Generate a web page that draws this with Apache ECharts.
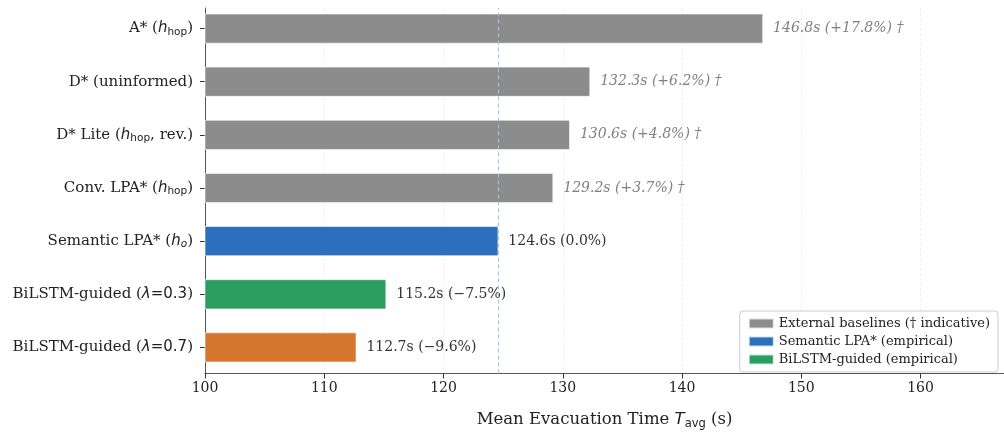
<!DOCTYPE html>
<html>
<head>
<meta charset="utf-8">
<script src="https://cdn.jsdelivr.net/npm/echarts@6/dist/echarts.min.js"></script>
<style>
  html, body { margin: 0; padding: 0; background: #fff; }
  #chart { width: 1004px; height: 435px; }
</style>
</head>
<body>
<div id="chart"></div>
<script>
// Planner names (rich-text markup for the math parts), top to bottom
const categories = [
  '{t|A* (}{m|h}{s|hop}{t|)}',
  '{t|D* (uninformed)}',
  '{t|D* Lite (}{m|h}{s|hop}{t|, rev.)}',
  '{t|Conv. LPA* (}{m|h}{s|hop}{t|)}',
  '{t|Semantic LPA* (}{m|h}{si|o}{t|)}',
  '{t|BiLSTM-guided (}{m|λ}{u|=0.3}{t|)}',
  '{t|BiLSTM-guided (}{m|λ}{u|=0.7}{t|)}'
];
// Mean evacuation time in seconds
const meanTimes = [146.8, 132.3, 130.6, 129.2, 124.6, 115.2, 112.7];
// Which legend group each planner belongs to
const groups = ['base', 'base', 'base', 'base', 'sem', 'bil', 'bil'];
const baselineIndex = 4; // Semantic LPA* is the reference for the % change
const xTicks = [100, 110, 120, 130, 140, 150, 160];

const groupInfo = {
  base: { name: 'External baselines († indicative)', color: '#8c8c8c' },
  sem:  { name: 'Semantic LPA* (empirical)',          color: '#2c6fbd' },
  bil:  { name: 'BiLSTM-guided (empirical)',          color: '#2a9d5f' }
};
const itemColors = { 6: '#d5762e' };

const SERIF = 'DejaVu Serif';
const SANS = 'DejaVu Sans';
const ref = meanTimes[baselineIndex];

function labelText(v) {
  const pct = (v - ref) / ref * 100;
  let p;
  if (Math.abs(pct) < 0.05) p = '0.0';
  else if (pct > 0) p = '+' + pct.toFixed(1);
  else p = '\u2212' + Math.abs(pct).toFixed(1);
  return v.toFixed(1) + 's (' + p + '%)';
}

function makeSeries(key) {
  const info = groupInfo[key];
  const isBase = key === 'base';
  return {
    name: info.name,
    type: 'bar',
    xAxisIndex: 0,
    yAxisIndex: 0,
    barWidth: 30,
    barGap: '-100%',
    itemStyle: { color: info.color, borderColor: 'rgba(255,255,255,0.75)', borderWidth: 0.8 },
    data: meanTimes.map((v, i) => {
      if (groups[i] !== key) return null;
      const d = { value: v };
      if (itemColors[i]) d.itemStyle = { color: itemColors[i] };
      return d;
    }),
    label: {
      show: true,
      position: 'right',
      distance: 10,
      fontFamily: SERIF,
      fontSize: 14,
      fontStyle: isBase ? 'italic' : 'normal',
      color: isBase ? '#808080' : '#333333',
      formatter: p => labelText(p.value) + (isBase ? ' \u2020' : '')
    },
    emphasis: { disabled: true },
    silent: true
  };
}

const chart = echarts.init(document.getElementById('chart'), null, { renderer: 'canvas' });
chart.setOption({
  animation: false,
  backgroundColor: '#ffffff',
  grid: [
    { left: 205, right: 0, top: 2, height: 372 },
    { left: 205, right: 0, top: 8, height: 372 }
  ],
  xAxis: [
    { gridIndex: 0, type: 'value', min: xTicks[0], max: 167, interval: 10, show: false },
    {
      gridIndex: 1, type: 'value', min: xTicks[0], max: 167, interval: 10,
      axisLine: { show: true, lineStyle: { color: '#555', width: 1 } },
      axisTick: { show: true, length: 5, customValues: xTicks, lineStyle: { color: '#333' } },
      axisLabel: {
        fontFamily: SERIF, fontSize: 14, color: '#222', margin: 8,
        customValues: xTicks,
        formatter: v => String(v)
      },
      splitLine: { show: true, lineStyle: { color: '#ececec', width: 0.8, type: [3, 2] } },
      name: '{t|Mean Evacuation Time }{m|T}{s|avg}{t| (s)}',
      nameLocation: 'middle',
      nameGap: 36,
      nameTextStyle: {
        rich: {
          t: { fontFamily: SERIF, fontSize: 16.5, color: '#222', lineHeight: 20 },
          m: { fontFamily: SANS, fontStyle: 'italic', fontSize: 16.5, color: '#222', lineHeight: 20 },
          s: { fontFamily: SANS, fontSize: 11.5, color: '#222', lineHeight: 20, padding: [9, 0, 0, 0] }
        }
      }
    }
  ],
  yAxis: [
    {
      gridIndex: 0, type: 'category', inverse: true, data: categories,
      axisLine: { show: false },
      axisTick: { show: true, alignWithLabel: true, length: 5, lineStyle: { color: '#333' } },
      axisLabel: {
        margin: 12,
        rich: {
          t: { fontFamily: SERIF, fontSize: 15, color: '#222', lineHeight: 18 },
          m: { fontFamily: SANS, fontStyle: 'italic', fontSize: 15, color: '#222', lineHeight: 18 },
          u: { fontFamily: SANS, fontSize: 15, color: '#222', lineHeight: 18 },
          s: { fontFamily: SANS, fontSize: 10.5, color: '#222', lineHeight: 18, padding: [7, 0, 0, 0] },
          si: { fontFamily: SANS, fontStyle: 'italic', fontSize: 10.5, color: '#222', lineHeight: 18, padding: [7, 0, 0, 0] }
        }
      },
      splitLine: { show: false }
    },
    {
      gridIndex: 1, type: 'value', min: 0, max: 1,
      axisLine: { show: true, lineStyle: { color: '#555', width: 1 } },
      axisTick: { show: false },
      axisLabel: { show: false },
      splitLine: { show: false }
    }
  ],
  legend: {
    orient: 'vertical',
    right: 6,
    top: 311,
    itemWidth: 25,
    itemHeight: 10,
    itemGap: 5,
    padding: [6, 8, 6, 8],
    backgroundColor: '#ffffff',
    borderColor: '#cccccc',
    borderWidth: 1,
    borderRadius: 3,
    textStyle: { fontFamily: SERIF, fontSize: 13, color: '#222' },
    data: ['base', 'sem', 'bil'].map(k => ({ name: groupInfo[k].name, icon: 'rect' })),
    selectedMode: false
  },
  series: [
    {
      name: 'reference',
      type: 'line',
      xAxisIndex: 1,
      yAxisIndex: 1,
      data: [],
      silent: true,
      markLine: {
        silent: true,
        symbol: 'none',
        label: { show: false },
        emphasis: { disabled: true },
        lineStyle: { color: '#9ec2ee', width: 1, type: [4, 3], opacity: 1 },
        data: [{ xAxis: ref }]
      }
    },
    makeSeries('base'),
    makeSeries('sem'),
    makeSeries('bil')
  ]
});
</script>
</body>
</html>
